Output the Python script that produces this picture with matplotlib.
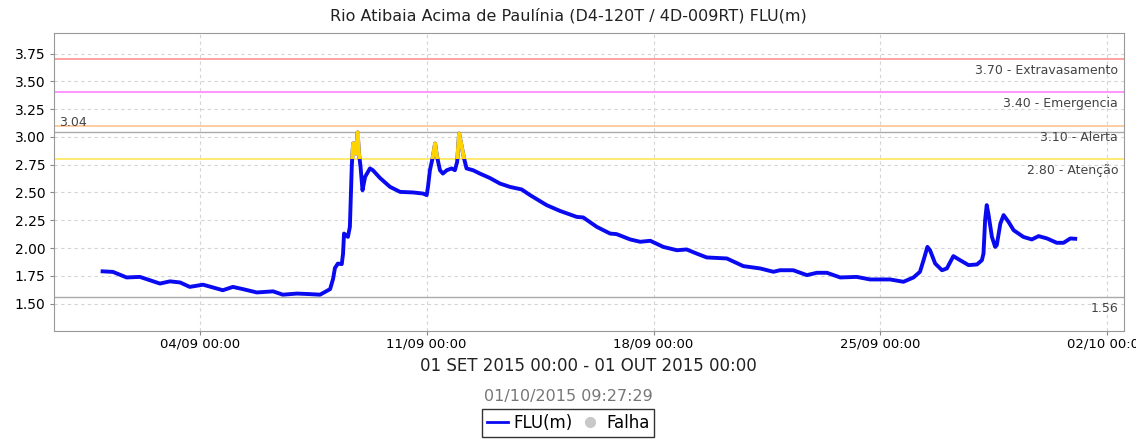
import numpy as np
import pandas as pd
import matplotlib
matplotlib.use("Agg")
import matplotlib.pyplot as plt
import matplotlib.dates as mdates
from matplotlib.patches import Rectangle
from matplotlib.lines import Line2D

# FLU(m) readings, days since 01/09/2015 00:00
days = [0.00, 0.32, 0.74, 1.15, 1.46, 1.77, 2.08, 2.39, 2.69, 3.10, 3.71, 4.02,
        4.33, 4.76, 5.26, 5.56, 6.00, 6.40, 6.71, 7.02, 7.11, 7.17, 7.26, 7.38,
        7.42, 7.45, 7.57, 7.63, 7.69, 7.73, 7.79, 7.82, 7.87, 7.91, 7.96, 8.02,
        8.10, 8.25, 8.34, 8.56, 8.87, 9.18, 9.58, 9.89, 10.00, 10.04, 10.10, 10.19,
        10.26, 10.31, 10.41, 10.50, 10.62, 10.77, 10.87, 10.94, 11.00, 11.08, 11.15,
        11.23, 11.43, 11.64, 11.95, 12.26, 12.57, 12.93, 13.19, 13.70, 14.11, 14.63,
        14.83, 15.25, 15.66, 15.86, 16.28, 16.59, 16.90, 17.30, 17.72, 18.02, 18.33,
        18.64, 19.26, 19.77, 20.29, 20.70, 20.90, 21.31, 21.73, 22.04, 22.35, 22.76,
        23.27, 23.68, 24.30, 24.71, 25.02, 25.22, 25.33, 25.45, 25.53, 25.69, 25.90,
        26.05, 26.25, 26.46, 26.72, 26.98, 27.13, 27.18, 27.23, 27.28, 27.33, 27.44,
        27.54, 27.59, 27.70, 27.80, 27.95, 28.11, 28.41, 28.67, 28.88, 29.14, 29.44,
        29.65, 29.86, 30.01]
flu = [1.79, 1.785, 1.735, 1.74, 1.71, 1.68, 1.70, 1.69, 1.65, 1.67, 1.62, 1.65,
       1.63, 1.60, 1.61, 1.58, 1.59, 1.585, 1.58, 1.63, 1.72, 1.82, 1.86, 1.855,
       1.95, 2.13, 2.10, 2.19, 2.745, 2.94, 2.94, 2.85, 3.04, 2.85, 2.73, 2.52,
       2.64, 2.716, 2.70, 2.63, 2.55, 2.505, 2.50, 2.49, 2.476, 2.55, 2.70, 2.82,
       2.94, 2.835, 2.70, 2.67, 2.70, 2.716, 2.70, 2.775, 3.03, 2.91, 2.81,
       2.716, 2.70, 2.67, 2.63, 2.58, 2.55, 2.527, 2.476, 2.386, 2.334, 2.28,
       2.275, 2.19, 2.13, 2.125, 2.077, 2.056, 2.065, 2.01, 1.98, 1.987, 1.95,
       1.915, 1.906, 1.837, 1.816, 1.786, 1.80, 1.80, 1.756, 1.777, 1.777, 1.735,
       1.74, 1.717, 1.717, 1.696, 1.735, 1.786, 1.89, 2.01, 1.98, 1.86, 1.80,
       1.816, 1.927, 1.89, 1.846, 1.852, 1.89, 1.95, 2.25, 2.386, 2.31, 2.10,
       2.01, 2.026, 2.22, 2.296, 2.236, 2.16, 2.10, 2.077, 2.107, 2.086, 2.047,
       2.047, 2.086, 2.083]

tick_dates = ["2015-09-04", "2015-09-11", "2015-09-18", "2015-09-25", "2015-10-02"]

# alert levels
levels = [3.70, 3.40, 3.10, 2.80]
level_names = ["Extravasamento", "Emergencia", "Alerta", "Atenção"]
level_colors = ["#FF9A9A", "#FF8CFF", "#FFC89A", "#FFE866"]
max_val = 3.04
min_val = 1.56

start = pd.Timestamp("2015-09-01")
x = mdates.date2num(start + pd.to_timedelta(days, unit="D"))

fig = plt.figure(figsize=(11.36, 4.41), dpi=100)
ax = fig.add_axes([0.0475, 0.2494, 0.9415, 0.6758])

xmin = mdates.date2num(start - pd.Timedelta(hours=36))
xmax = mdates.date2num(start + pd.Timedelta(hours=31.5 * 24))
ax.set_xlim(xmin, xmax)
ax.set_ylim(1.253, 3.935)

ax.grid(True, color="#D4D4D4", linestyle=(0, (3, 3)), linewidth=0.8)
ax.set_axisbelow(True)

for lv, nm, col in zip(levels, level_names, level_colors):
    ax.axhline(lv, color=col, lw=1.3, zorder=2)
    ax.text(0.995, lv - 0.045, f"{lv:.2f} - {nm}", transform=ax.get_yaxis_transform(),
            ha="right", va="top", fontsize=9, color="#444444")

ax.axhline(max_val, color="#AAAAAA", lw=1.0, zorder=2)
ax.axhline(min_val, color="#AAAAAA", lw=1.0, zorder=2)
ax.text(0.005, max_val + 0.03, f"{max_val:.2f}", transform=ax.get_yaxis_transform(),
        ha="left", va="bottom", fontsize=9, color="#444444")
ax.text(0.995, min_val - 0.045, f"{min_val:.2f}", transform=ax.get_yaxis_transform(),
        ha="right", va="top", fontsize=9, color="#444444")

ax.plot(x, flu, color="#0A0AF0", lw=2.8, zorder=3, solid_joinstyle="round")
gold, = ax.plot(x, flu, color="#FFD400", lw=2.8, zorder=4, solid_joinstyle="round")
clip = Rectangle((xmin, levels[3]), xmax - xmin, 5, transform=ax.transData)
gold.set_clip_path(clip)

ax.set_yticks(np.arange(1.5, 3.76, 0.25))
ax.yaxis.set_major_formatter(matplotlib.ticker.FormatStrFormatter("%.2f"))
ax.set_xticks(mdates.date2num(pd.to_datetime(tick_dates)))
ax.xaxis.set_major_formatter(mdates.DateFormatter("%d/%m %H:%M"))
ax.tick_params(axis="both", length=3, color="#888888", labelsize=9.5, pad=2)
ax.tick_params(axis="y", labelsize=10, pad=3)
for s in ax.spines.values():
    s.set_color("#999999")

ax.set_xlabel("01 SET 2015 00:00 - 01 OUT 2015 00:00", fontsize=12, labelpad=4, color="#222222")
fig.text(0.5, 0.965, "Rio Atibaia Acima de Paulínia (D4-120T / 4D-009RT) FLU(m)",
         ha="center", va="center", fontsize=11.5, color="#222222")
fig.text(0.5, 0.102, "01/10/2015 09:27:29", ha="center", va="center", fontsize=11.5,
         color="#777777")

handles = [Line2D([], [], color="#0A0AF0", lw=2),
           Line2D([], [], color="#C8C8C8", marker="o", lw=0, markersize=7)]
leg = fig.legend(handles, ["FLU(m)", "Falha"], loc="lower center", ncol=2,
                 bbox_to_anchor=(0.5, 0.005), fontsize=12, frameon=True, fancybox=False,
                 edgecolor="black", borderpad=0.3, handlelength=1.3, handletextpad=0.3,
                 columnspacing=0.4, borderaxespad=0.1)
leg.get_frame().set_linewidth(1.0)

fig.savefig("out.png", dpi=100)
